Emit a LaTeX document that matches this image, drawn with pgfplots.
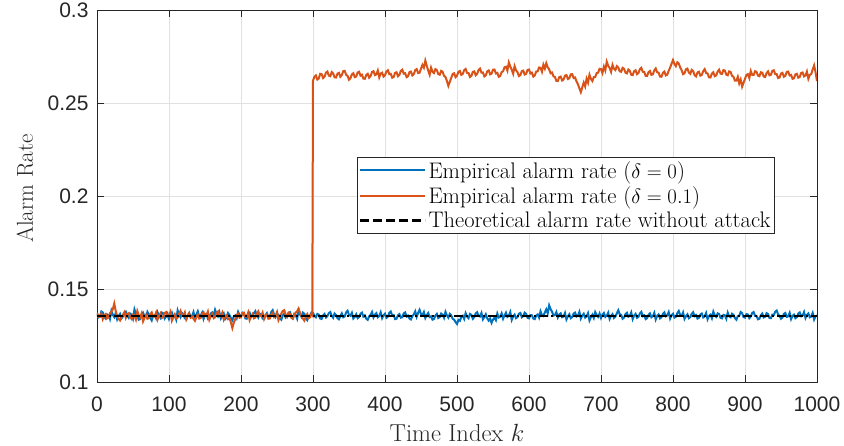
\documentclass[border=0pt]{standalone}
\usepackage{pgfplots}
\pgfplotsset{compat=1.18}
\usepackage{fontspec}
\newfontfamily\helv{Liberation Sans}
\definecolor{mblue}{RGB}{0,114,189}
\definecolor{morange}{RGB}{217,83,25}
\definecolor{axgray}{RGB}{38,38,38}
\definecolor{gridgray}{RGB}{225,225,225}
\begin{document}
\begin{tikzpicture}
\begin{axis}[
  scale only axis, width=720pt, height=372pt,
  xmin=0, xmax=1000, ymin=0.1, ymax=0.3,
  xtick={0,100,...,1000}, ytick={0.1,0.15,0.2,0.25,0.3},
  yticklabels={0.1,0.15,0.2,0.25,0.3},
  scaled y ticks=false,
  /pgf/number format/1000 sep={},
  /pgf/number format/assume math mode=true,
  tick label style={font=\helv\fontsize{21}{24}\selectfont, text=axgray},
  xticklabel style={yshift=-11pt},
  yticklabel style={xshift=-5pt},
  xlabel={Time Index $k$}, ylabel={Alarm Rate},
  xlabel style={font=\fontsize{24.5}{28}\selectfont, text=axgray, at={(axis description cs:0.5,0)}, anchor=base, yshift=-60pt},
  ylabel style={font=\fontsize{23}{27}\selectfont, text=axgray, at={(axis description cs:-0.0889,0.52)}, anchor=base},
  grid=major, major grid style={gridgray, line width=0.6pt},
  axis line style={axgray, line width=0.8pt},
  tick style={axgray, line width=0.6pt},
  tick align=inside, major tick length=7pt,
  axis background/.style={fill=white},
  legend style={at={(0.361,0.605)}, anchor=north west, draw=axgray, line width=0.6pt,
    font=\fontsize{22.5}{27}\selectfont, fill=white, inner sep=2pt, row sep=3pt,
    cells={anchor=west}},
  legend image code/.code={\draw[#1] (0pt,0pt) -- (65pt,0pt);},
]
\addplot[mblue, line width=2pt] coordinates {
(0,0.1368)(2,0.1347)(4,0.1352)(6,0.1379)(8,0.1374)(10,0.1350)(12,0.1341)(14,0.1363)(16,0.1360)(18,0.1339)(20,0.1383)(22,0.1361)(24,0.1349)(26,0.1372)(28,0.1337)(30,0.1355)(32,0.1366)(34,0.1342)(36,0.1352)(38,0.1370)
(40,0.1378)(42,0.1356)(44,0.1345)(46,0.1368)(48,0.1361)(50,0.1340)(52,0.1390)(54,0.1365)(56,0.1356)(58,0.1335)(60,0.1338)(62,0.1360)(64,0.1372)(66,0.1353)(68,0.1349)(70,0.1377)(72,0.1363)(74,0.1344)(76,0.1331)(78,0.1357)
(80,0.1358)(82,0.1343)(84,0.1376)(86,0.1359)(88,0.1346)(90,0.1373)(92,0.1369)(94,0.1341)(96,0.1352)(98,0.1367)(100,0.1340)(102,0.1362)(104,0.1373)(106,0.1348)(108,0.1359)(110,0.1336)(112,0.1385)(114,0.1363)(116,0.1348)(118,0.1371)
(120,0.1362)(122,0.1343)(124,0.1336)(126,0.1358)(128,0.1371)(130,0.1350)(132,0.1355)(134,0.1376)(136,0.1344)(138,0.1362)(140,0.1380)(142,0.1352)(144,0.1357)(146,0.1373)(148,0.1339)(150,0.1361)(152,0.1366)(154,0.1341)(156,0.1350)(158,0.1368)
(160,0.1374)(162,0.1353)(164,0.1388)(166,0.1366)(168,0.1353)(170,0.1375)(172,0.1342)(174,0.1357)(176,0.1369)(178,0.1338)(180,0.1347)(182,0.1371)(184,0.1360)(186,0.1345)(188,0.1332)(190,0.1352)(192,0.1358)(194,0.1343)(196,0.1377)(198,0.1360)
(200,0.1351)(202,0.1372)(204,0.1365)(206,0.1342)(208,0.1340)(210,0.1361)(212,0.1372)(214,0.1349)(216,0.1356)(218,0.1370)(220,0.1381)(222,0.1358)(224,0.1346)(226,0.1367)(228,0.1363)(230,0.1341)(232,0.1338)(234,0.1359)(236,0.1370)(238,0.1348)
(240,0.1353)(242,0.1376)(244,0.1386)(246,0.1362)(248,0.1349)(250,0.1368)(252,0.1361)(254,0.1344)(256,0.1335)(258,0.1357)(260,0.1368)(262,0.1346)(264,0.1352)(266,0.1371)(268,0.1375)(270,0.1354)(272,0.1343)(274,0.1366)(276,0.1359)(278,0.1340)
(280,0.1384)(282,0.1362)(284,0.1350)(286,0.1373)(288,0.1367)(290,0.1345)(292,0.1333)(294,0.1356)(296,0.1357)(298,0.1374)(300,0.1372)(302,0.1355)(304,0.1348)(306,0.1366)(308,0.1362)(310,0.1341)(312,0.1339)(314,0.1358)(316,0.1366)(318,0.1347)
(320,0.1354)(322,0.1370)(324,0.1376)(326,0.1356)(328,0.1345)(330,0.1368)(332,0.1360)(334,0.1343)(336,0.1337)(338,0.1355)(340,0.1369)(342,0.1348)(344,0.1352)(346,0.1374)(348,0.1383)(350,0.1361)(352,0.1356)(354,0.1372)(356,0.1341)(358,0.1350)
(360,0.1364)(362,0.1343)(364,0.1349)(366,0.1367)(368,0.1373)(370,0.1351)(372,0.1358)(374,0.1340)(376,0.1334)(378,0.1353)(380,0.1361)(382,0.1376)(384,0.1347)(386,0.1362)(388,0.1370)(390,0.1348)(392,0.1355)(394,0.1375)(396,0.1343)(398,0.1358)
(400,0.1367)(402,0.1345)(404,0.1351)(406,0.1372)(408,0.1379)(410,0.1357)(412,0.1360)(414,0.1338)(416,0.1340)(418,0.1359)(420,0.1365)(422,0.1346)(424,0.1348)(426,0.1369)(428,0.1374)(430,0.1352)(432,0.1357)(434,0.1341)(436,0.1336)(438,0.1354)
(440,0.1363)(442,0.1380)(444,0.1350)(446,0.1371)(448,0.1388)(450,0.1366)(452,0.1359)(454,0.1376)(456,0.1344)(458,0.1360)(460,0.1371)(462,0.1349)(464,0.1353)(466,0.1335)(468,0.1339)(470,0.1357)(472,0.1366)(474,0.1344)(476,0.1349)(478,0.1368)
(480,0.1362)(482,0.1345)(484,0.1377)(486,0.1358)(488,0.1346)(490,0.1366)(492,0.1358)(494,0.1340)(496,0.1335)(498,0.1322)(500,0.1312)(502,0.1334)(504,0.1329)(506,0.1350)(508,0.1356)(510,0.1339)(512,0.1370)(514,0.1352)(516,0.1343)(518,0.1366)
(520,0.1361)(522,0.1340)(524,0.1348)(526,0.1369)(528,0.1375)(530,0.1355)(532,0.1352)(534,0.1371)(536,0.1337)(538,0.1349)(540,0.1364)(542,0.1342)(544,0.1330)(546,0.1341)(548,0.1318)(550,0.1336)(552,0.1345)(554,0.1332)(556,0.1368)(558,0.1347)
(560,0.1351)(562,0.1369)(564,0.1340)(566,0.1358)(568,0.1373)(570,0.1350)(572,0.1357)(574,0.1376)(576,0.1334)(578,0.1352)(580,0.1362)(582,0.1343)(584,0.1349)(586,0.1367)(588,0.1371)(590,0.1348)(592,0.1354)(594,0.1373)(596,0.1366)(598,0.1345)
(600,0.1342)(602,0.1360)(604,0.1359)(606,0.1341)(608,0.1338)(610,0.1357)(612,0.1363)(614,0.1346)(616,0.1380)(618,0.1361)(620,0.1355)(622,0.1374)(624,0.1391)(626,0.1369)(628,0.1412)(630,0.1392)(632,0.1378)(634,0.1357)(636,0.1360)(638,0.1376)
(640,0.1347)(642,0.1363)(644,0.1369)(646,0.1348)(648,0.1352)(650,0.1371)(652,0.1336)(654,0.1353)(656,0.1364)(658,0.1343)(660,0.1349)(662,0.1368)(664,0.1373)(666,0.1352)(668,0.1358)(670,0.1377)(672,0.1341)(674,0.1357)(676,0.1367)(678,0.1346)
(680,0.1353)(682,0.1370)(684,0.1331)(686,0.1349)(688,0.1362)(690,0.1344)(692,0.1376)(694,0.1360)(696,0.1350)(698,0.1368)(700,0.1344)(702,0.1361)(704,0.1371)(706,0.1350)(708,0.1357)(710,0.1373)(712,0.1339)(714,0.1356)(716,0.1365)(718,0.1344)
(720,0.1352)(722,0.1369)(724,0.1386)(726,0.1364)(728,0.1361)(730,0.1340)(732,0.1346)(734,0.1365)(736,0.1372)(738,0.1351)(740,0.1355)(742,0.1374)(744,0.1338)(746,0.1357)(748,0.1366)(750,0.1345)(752,0.1350)(754,0.1368)(756,0.1377)(758,0.1354)
(760,0.1359)(762,0.1338)(764,0.1343)(766,0.1362)(768,0.1369)(770,0.1348)(772,0.1354)(774,0.1372)(776,0.1336)(778,0.1355)(780,0.1363)(782,0.1342)(784,0.1348)(786,0.1366)(788,0.1374)(790,0.1353)(792,0.1358)(794,0.1376)(796,0.1341)(798,0.1359)
(800,0.1367)(802,0.1346)(804,0.1351)(806,0.1370)(808,0.1382)(810,0.1360)(812,0.1356)(814,0.1374)(816,0.1339)(818,0.1354)(820,0.1364)(822,0.1343)(824,0.1349)(826,0.1367)(828,0.1375)(830,0.1354)(832,0.1360)(834,0.1341)(836,0.1345)(838,0.1363)
(840,0.1368)(842,0.1347)(844,0.1353)(846,0.1371)(848,0.1337)(850,0.1355)(852,0.1362)(854,0.1343)(856,0.1378)(858,0.1358)(860,0.1350)(862,0.1369)(864,0.1366)(866,0.1345)(868,0.1342)(870,0.1361)(872,0.1359)(874,0.1340)(876,0.1373)(878,0.1353)
(880,0.1348)(882,0.1367)(884,0.1361)(886,0.1344)(888,0.1335)(890,0.1354)(892,0.1357)(894,0.1376)(896,0.1370)(898,0.1349)(900,0.1346)(902,0.1365)(904,0.1363)(906,0.1343)(908,0.1352)(910,0.1371)(912,0.1376)(914,0.1355)(916,0.1355)(918,0.1337)
(920,0.1340)(922,0.1359)(924,0.1368)(926,0.1347)(928,0.1351)(930,0.1370)(932,0.1365)(934,0.1344)(936,0.1343)(938,0.1362)(940,0.1360)(942,0.1378)(944,0.1384)(946,0.1363)(948,0.1356)(950,0.1340)(952,0.1347)(954,0.1366)(956,0.1371)(958,0.1350)
(960,0.1353)(962,0.1372)(964,0.1338)(966,0.1355)(968,0.1362)(970,0.1343)(972,0.1349)(974,0.1368)(976,0.1374)(978,0.1353)(980,0.1357)(982,0.1376)(984,0.1344)(986,0.1361)(988,0.1369)(990,0.1348)(992,0.1352)(994,0.1371)(996,0.1336)(998,0.1354)
(1000,0.1358)};
\addlegendentry{Empirical alarm rate ($\delta=0$)}
\addplot[morange, line width=2pt] coordinates {
(0,0.1372)(2,0.1351)(4,0.1350)(6,0.1368)(8,0.1338)(10,0.1357)(12,0.1365)(14,0.1342)(16,0.1347)(18,0.1370)(20,0.1378)(22,0.1392)(24,0.1422)(26,0.1381)(28,0.1356)(30,0.1340)(32,0.1331)(34,0.1350)(36,0.1362)(38,0.1375)
(40,0.1345)(42,0.1366)(44,0.1370)(46,0.1349)(48,0.1339)(50,0.1362)(52,0.1357)(54,0.1336)(56,0.1381)(58,0.1359)(60,0.1348)(62,0.1369)(64,0.1326)(66,0.1345)(68,0.1361)(70,0.1340)(72,0.1343)(74,0.1365)(76,0.1374)(78,0.1352)
(80,0.1352)(82,0.1373)(84,0.1335)(86,0.1354)(88,0.1368)(90,0.1344)(92,0.1349)(94,0.1371)(96,0.1376)(98,0.1351)(100,0.1358)(102,0.1377)(104,0.1330)(106,0.1349)(108,0.1364)(110,0.1341)(112,0.1346)(114,0.1367)(116,0.1383)(118,0.1360)
(120,0.1355)(122,0.1374)(124,0.1337)(126,0.1356)(128,0.1369)(130,0.1345)(132,0.1351)(134,0.1340)(136,0.1329)(138,0.1348)(140,0.1362)(142,0.1341)(144,0.1344)(146,0.1366)(148,0.1375)(150,0.1353)(152,0.1357)(154,0.1378)(156,0.1334)(158,0.1352)
(160,0.1366)(162,0.1343)(164,0.1348)(166,0.1370)(168,0.1379)(170,0.1356)(172,0.1353)(174,0.1372)(176,0.1336)(178,0.1355)(180,0.1360)(182,0.1338)(184,0.1342)(186,0.1320)(188,0.1290)(190,0.1318)(192,0.1338)(194,0.1360)(196,0.1367)(198,0.1345)
(200,0.1349)(202,0.1370)(204,0.1373)(206,0.1351)(208,0.1352)(210,0.1374)(212,0.1333)(214,0.1352)(216,0.1365)(218,0.1342)(220,0.1346)(222,0.1368)(224,0.1380)(226,0.1357)(228,0.1354)(230,0.1373)(232,0.1339)(234,0.1357)(236,0.1363)(238,0.1340)
(240,0.1341)(242,0.1362)(244,0.1371)(246,0.1349)(248,0.1356)(250,0.1376)(252,0.1332)(254,0.1350)(256,0.1368)(258,0.1382)(260,0.1386)(262,0.1363)(264,0.1350)(266,0.1372)(268,0.1366)(270,0.1345)(272,0.1340)(274,0.1361)(276,0.1373)(278,0.1381)
(280,0.1395)(282,0.1372)(284,0.1355)(286,0.1341)(288,0.1330)(290,0.1351)(292,0.1365)(294,0.1343)(296,0.1348)(298,0.1369)(299,0.1362)
(300,0.2620)(302,0.2641)(304,0.2648)(306,0.2626)(308,0.2632)(310,0.2657)(312,0.2655)(314,0.2634)(316,0.2641)(318,0.2663)(320,0.2669)(322,0.2647)(324,0.2644)(326,0.2666)(328,0.2659)(330,0.2638)(332,0.2637)(334,0.2658)(336,0.2662)(338,0.2641)
(340,0.2650)(342,0.2671)(344,0.2673)(346,0.2652)(348,0.2646)(350,0.2625)(352,0.2633)(354,0.2654)(356,0.2660)(358,0.2639)(360,0.2642)(362,0.2664)(364,0.2668)(366,0.2647)(368,0.2652)(370,0.2631)(372,0.2630)(374,0.2651)(376,0.2657)(378,0.2636)
(380,0.2645)(382,0.2667)(384,0.2671)(386,0.2650)(388,0.2654)(390,0.2675)(392,0.2638)(394,0.2659)(396,0.2663)(398,0.2642)(400,0.2649)(402,0.2670)(404,0.2676)(406,0.2655)(408,0.2657)(410,0.2636)(412,0.2640)(414,0.2662)(416,0.2665)(418,0.2644)
(420,0.2651)(422,0.2673)(424,0.2679)(426,0.2658)(428,0.2660)(430,0.2639)(432,0.2644)(434,0.2666)(436,0.2669)(438,0.2648)(440,0.2655)(442,0.2677)(444,0.2682)(446,0.2661)(448,0.2663)(450,0.2684)(452,0.2705)(454,0.2690)(456,0.2728)(458,0.2700)
(460,0.2674)(462,0.2652)(464,0.2690)(466,0.2668)(468,0.2661)(470,0.2682)(472,0.2677)(474,0.2655)(476,0.2652)(478,0.2673)(480,0.2668)(482,0.2646)(484,0.2640)(486,0.2618)(488,0.2592)(490,0.2614)(492,0.2635)(494,0.2656)(496,0.2660)(498,0.2639)
(500,0.2647)(502,0.2668)(504,0.2672)(506,0.2651)(508,0.2656)(510,0.2677)(512,0.2683)(514,0.2662)(516,0.2661)(518,0.2640)(520,0.2646)(522,0.2667)(524,0.2670)(526,0.2649)(528,0.2657)(530,0.2678)(532,0.2685)(534,0.2663)(536,0.2664)(538,0.2643)
(540,0.2649)(542,0.2670)(544,0.2675)(546,0.2654)(548,0.2658)(550,0.2679)(552,0.2680)(554,0.2659)(556,0.2662)(558,0.2641)(560,0.2645)(562,0.2666)(564,0.2671)(566,0.2692)(568,0.2695)(570,0.2674)(572,0.2718)(574,0.2696)(576,0.2679)(578,0.2657)
(580,0.2698)(582,0.2676)(584,0.2666)(586,0.2645)(588,0.2650)(590,0.2671)(592,0.2674)(594,0.2653)(596,0.2657)(598,0.2678)(600,0.2680)(602,0.2659)(604,0.2663)(606,0.2642)(608,0.2648)(610,0.2669)(612,0.2670)(614,0.2691)(616,0.2689)(618,0.2668)
(620,0.2706)(622,0.2685)(624,0.2714)(626,0.2692)(628,0.2681)(630,0.2660)(632,0.2664)(634,0.2643)(636,0.2640)(638,0.2619)(640,0.2618)(642,0.2639)(644,0.2642)(646,0.2621)(648,0.2626)(650,0.2647)(652,0.2650)(654,0.2629)(656,0.2633)(658,0.2654)
(660,0.2655)(662,0.2634)(664,0.2637)(666,0.2616)(668,0.2600)(670,0.2579)(672,0.2558)(674,0.2584)(676,0.2610)(678,0.2589)(680,0.2631)(682,0.2609)(684,0.2652)(686,0.2630)(688,0.2618)(690,0.2639)(692,0.2640)(694,0.2661)(696,0.2663)(698,0.2684)
(700,0.2682)(702,0.2661)(704,0.2696)(706,0.2675)(708,0.2722)(710,0.2700)(712,0.2688)(714,0.2667)(716,0.2705)(718,0.2684)(720,0.2677)(722,0.2698)(724,0.2691)(726,0.2670)(728,0.2668)(730,0.2689)(732,0.2684)(734,0.2663)(736,0.2659)(738,0.2680)
(740,0.2673)(742,0.2652)(744,0.2650)(746,0.2671)(748,0.2676)(750,0.2655)(752,0.2661)(754,0.2682)(756,0.2689)(758,0.2668)(760,0.2667)(762,0.2646)(764,0.2645)(766,0.2666)(768,0.2672)(770,0.2651)(772,0.2654)(774,0.2675)(776,0.2686)(778,0.2665)
(780,0.2663)(782,0.2642)(784,0.2641)(786,0.2662)(788,0.2669)(790,0.2648)(792,0.2652)(794,0.2673)(796,0.2690)(798,0.2711)(800,0.2731)(802,0.2710)(804,0.2698)(806,0.2719)(808,0.2712)(810,0.2691)(812,0.2676)(814,0.2655)(816,0.2660)(818,0.2681)
(820,0.2685)(822,0.2664)(824,0.2657)(826,0.2678)(828,0.2671)(830,0.2650)(832,0.2643)(834,0.2664)(836,0.2668)(838,0.2647)(840,0.2651)(842,0.2672)(844,0.2682)(846,0.2661)(848,0.2659)(850,0.2638)(852,0.2637)(854,0.2658)(856,0.2665)(858,0.2644)
(860,0.2648)(862,0.2669)(864,0.2679)(866,0.2658)(868,0.2656)(870,0.2677)(872,0.2674)(874,0.2653)(876,0.2649)(878,0.2670)(880,0.2667)(882,0.2646)(884,0.2641)(886,0.2620)(888,0.2620)(890,0.2641)(892,0.2605)(894,0.2626)(896,0.2588)(898,0.2609)
(900,0.2630)(902,0.2651)(904,0.2655)(906,0.2634)(908,0.2672)(910,0.2651)(912,0.2650)(914,0.2671)(916,0.2668)(918,0.2647)(920,0.2644)(922,0.2665)(924,0.2663)(926,0.2642)(928,0.2640)(930,0.2661)(932,0.2670)(934,0.2649)(936,0.2652)(938,0.2673)
(940,0.2676)(942,0.2655)(944,0.2655)(946,0.2634)(948,0.2637)(950,0.2658)(952,0.2662)(954,0.2641)(956,0.2646)(958,0.2667)(960,0.2669)(962,0.2648)(964,0.2651)(966,0.2630)(968,0.2633)(970,0.2654)(972,0.2657)(974,0.2636)(976,0.2640)(978,0.2661)
(980,0.2664)(982,0.2643)(984,0.2648)(986,0.2669)(988,0.2630)(990,0.2651)(992,0.2656)(994,0.2680)(996,0.2702)(998,0.2665)(1000,0.2618)};
\addlegendentry{Empirical alarm rate ($\delta=0.1$)}
\addplot[black, line width=2.4pt, dash pattern=on 9pt off 3pt on 2pt off 3pt,
  legend image code/.code={\draw[black, line width=2.4pt, dash pattern=on 9pt off 4pt] (0pt,0pt) -- (65pt,0pt);}]
  coordinates {(0,0.1355)(1000,0.1355)};
\addlegendentry{Theoretical alarm rate without attack}
\end{axis}
\pgfresetboundingbox
\path (current axis.south west) ++(-97pt,-64pt) rectangle ++(844pt,446pt);
\end{tikzpicture}
\end{document}
